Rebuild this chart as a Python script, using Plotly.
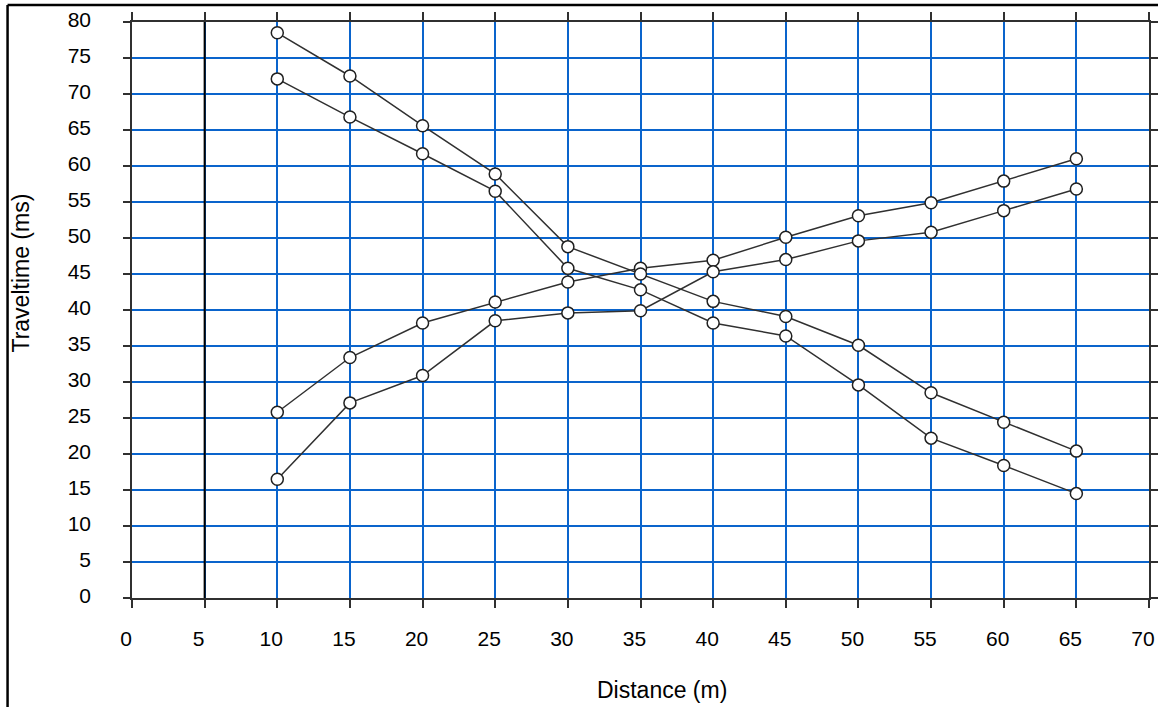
import plotly.graph_objects as go

distance = [10, 15, 20, 25, 30, 35, 40, 45, 50, 55, 60, 65]
forward_upper = [25.8, 33.4, 38.2, 41.1, 43.9, 45.8, 46.9, 50.1, 53.1, 54.9, 57.9, 61.0]
forward_lower = [16.5, 27.1, 30.9, 38.5, 39.6, 39.9, 45.3, 47.0, 49.6, 50.8, 53.8, 56.8]
reverse_upper = [78.5, 72.5, 65.6, 58.9, 48.8, 45.0, 41.2, 39.1, 35.1, 28.5, 24.4, 20.4]
reverse_lower = [72.1, 66.8, 61.7, 56.5, 45.8, 42.8, 38.2, 36.4, 29.6, 22.2, 18.4, 14.5]
x_ticks = list(range(0, 75, 5))
y_ticks = list(range(0, 85, 5))
source_position = 5
x_title = "Distance (m)"
y_title = "Traveltime (ms)"

FONT = "Arial, Liberation Sans, sans-serif"
GRID = "#0a64cc"

fig = go.Figure()
for ys in [forward_upper, forward_lower, reverse_upper, reverse_lower]:
    fig.add_trace(go.Scatter(
        x=distance, y=ys, mode="lines+markers",
        line=dict(color="#303030", width=1.5),
        marker=dict(symbol="circle", size=12, color="white",
                    line=dict(color="#202020", width=1.5)),
        showlegend=False, hoverinfo="x+y"))

fig.add_shape(type="line", xref="x", yref="y",
              x0=source_position, x1=source_position, y0=0, y1=80,
              line=dict(color="black", width=2), layer="above")

# outer frame (left and top edges)
L, R, T, B = 131.5, 9, 22, 109
W, H = 1158, 707
pw, ph = W - L - R, H - T - B
fx = lambda px: (px - L) / pw
fy = lambda py: (H - B - py) / ph
fig.add_shape(type="line", xref="paper", yref="paper",
              x0=fx(7), x1=fx(1160), y0=fy(5), y1=fy(5),
              line=dict(color="black", width=2.5))
fig.add_shape(type="line", xref="paper", yref="paper",
              x0=fx(7), x1=fx(7), y0=fy(5), y1=fy(710),
              line=dict(color="black", width=2.5))

fig.add_annotation(text=x_title, xref="paper", yref="paper",
                   x=fx(662), y=fy(690), xanchor="center", yanchor="middle",
                   showarrow=False, font=dict(family=FONT, size=23, color="black"))
fig.add_annotation(text=y_title, xref="paper", yref="paper", textangle=-90,
                   x=fx(20), y=fy(273), xanchor="center", yanchor="middle",
                   showarrow=False, font=dict(family=FONT, size=23, color="black"))

fig.update_xaxes(
    range=[0, 70], tickvals=x_ticks, ticktext=[str(v) for v in x_ticks],
    showgrid=True, gridcolor=GRID, gridwidth=1.5,
    showline=True, linecolor="#303030", linewidth=1.5, mirror="ticks",
    ticks="outside", ticklen=8, tickcolor="#303030", tickwidth=1.5,
    tickfont=dict(family=FONT, size=21, color="black"),
    ticklabelstandoff=13, ticklabelshift=-6,
    zeroline=False,
)
fig.update_yaxes(
    range=[0, 80], tickvals=y_ticks, ticktext=[str(v) for v in y_ticks],
    showgrid=True, gridcolor=GRID, gridwidth=1.5,
    showline=True, linecolor="#303030", linewidth=1.5, mirror="ticks",
    ticks="outside", ticklen=7, tickcolor="#303030", tickwidth=1.5,
    tickfont=dict(family=FONT, size=21, color="black"),
    ticklabelstandoff=28, ticklabelshift=-2,
    zeroline=False,
)
fig.update_layout(
    width=W, height=H,
    margin=dict(l=L, r=R, t=T, b=B, autoexpand=False),
    paper_bgcolor="white", plot_bgcolor="white",
    showlegend=False,
)
fig.write_html("out.html", config={"displayModeBar": False},
               post_script="document.body.style.margin='0px';")
